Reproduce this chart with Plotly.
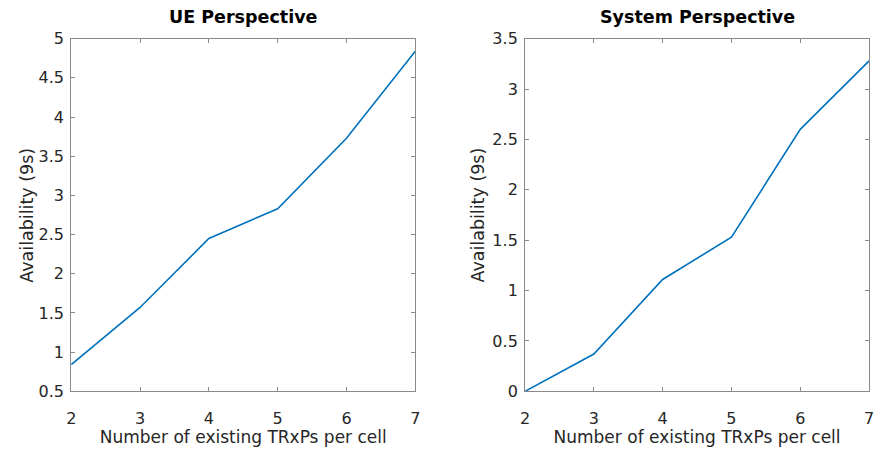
import plotly.graph_objects as go
from plotly.subplots import make_subplots

# Number of TRxPs per cell and availability (in nines) for each perspective
trxps = [2, 3, 4, 5, 6, 7]
ue_availability = [0.84, 1.57, 2.45, 2.83, 3.73, 4.84]
system_availability = [0.0, 0.37, 1.11, 1.53, 2.60, 3.28]

titles = ["UE Perspective", "System Perspective"]
x_title = "Number of existing TRxPs per cell"
y_title = "Availability (9s)"
x_ticks = [2, 3, 4, 5, 6, 7]
ue_y_ticks = [0.5, 1, 1.5, 2, 2.5, 3, 3.5, 4, 4.5, 5]
system_y_ticks = [0, 0.5, 1, 1.5, 2, 2.5, 3, 3.5]

LINE = "#0072BD"
AXIS = "#8a8a8a"
TEXT = "#262626"
FONT = "DejaVu Sans"
W, H = 880, 454

fig = make_subplots(rows=1, cols=2)

fig.add_trace(go.Scatter(x=trxps, y=ue_availability, mode="lines",
                         line=dict(color=LINE, width=1.6), showlegend=False),
              row=1, col=1)
fig.add_trace(go.Scatter(x=trxps, y=system_availability, mode="lines",
                         line=dict(color=LINE, width=1.6), showlegend=False),
              row=1, col=2)

common_axis = dict(
    showline=True, linecolor=AXIS, linewidth=1, mirror="ticks",
    ticks="inside", ticklen=4, tickcolor=AXIS, tickwidth=1,
    showgrid=False, zeroline=False,
    tickfont=dict(family=FONT, size=16, color=TEXT),
)

y_top = 1 - 31 / H
y_bot = 1 - 399 / H
left_dom = [67 / W, 415 / W]
right_dom = [526 / W, 874 / W]

x_axis_style = dict(range=[2, 7], tickvals=x_ticks, ticklabelstandoff=12,
                    title=dict(text=x_title, font=dict(family=FONT, size=17, color=TEXT),
                               standoff=2),
                    **common_axis)

fig.update_layout(
    xaxis=dict(domain=left_dom, **x_axis_style),
    xaxis2=dict(domain=right_dom, **x_axis_style),
    yaxis=dict(domain=[y_bot, y_top], range=[0.5, 5], tickvals=ue_y_ticks,
               ticktext=[f"{v:g}" for v in ue_y_ticks], ticklabelstandoff=3,
               **common_axis),
    yaxis2=dict(domain=[y_bot, y_top], range=[0, 3.5], tickvals=system_y_ticks,
                ticktext=[f"{v:g}" for v in system_y_ticks], ticklabelstandoff=3,
                **common_axis),
    width=W, height=H,
    margin=dict(l=0, r=0, t=0, b=0),
    plot_bgcolor="white", paper_bgcolor="white",
)

# Panel titles
for title, dom in zip(titles, [left_dom, right_dom]):
    fig.add_annotation(text=f"<b>{title}</b>", xref="paper", yref="paper",
                       x=sum(dom) / 2, y=y_top, yshift=10, xanchor="center",
                       yanchor="bottom", showarrow=False,
                       font=dict(family=FONT, size=17.5, color="#000000"))

# Rotated y-axis titles
for x_px in [22, 478]:
    fig.add_annotation(text=y_title, textangle=-90, xref="paper", yref="paper",
                       x=x_px / W, y=(y_top + y_bot) / 2, xanchor="center",
                       yanchor="middle", showarrow=False,
                       font=dict(family=FONT, size=17.5, color=TEXT))

fig.write_html("out.html")
